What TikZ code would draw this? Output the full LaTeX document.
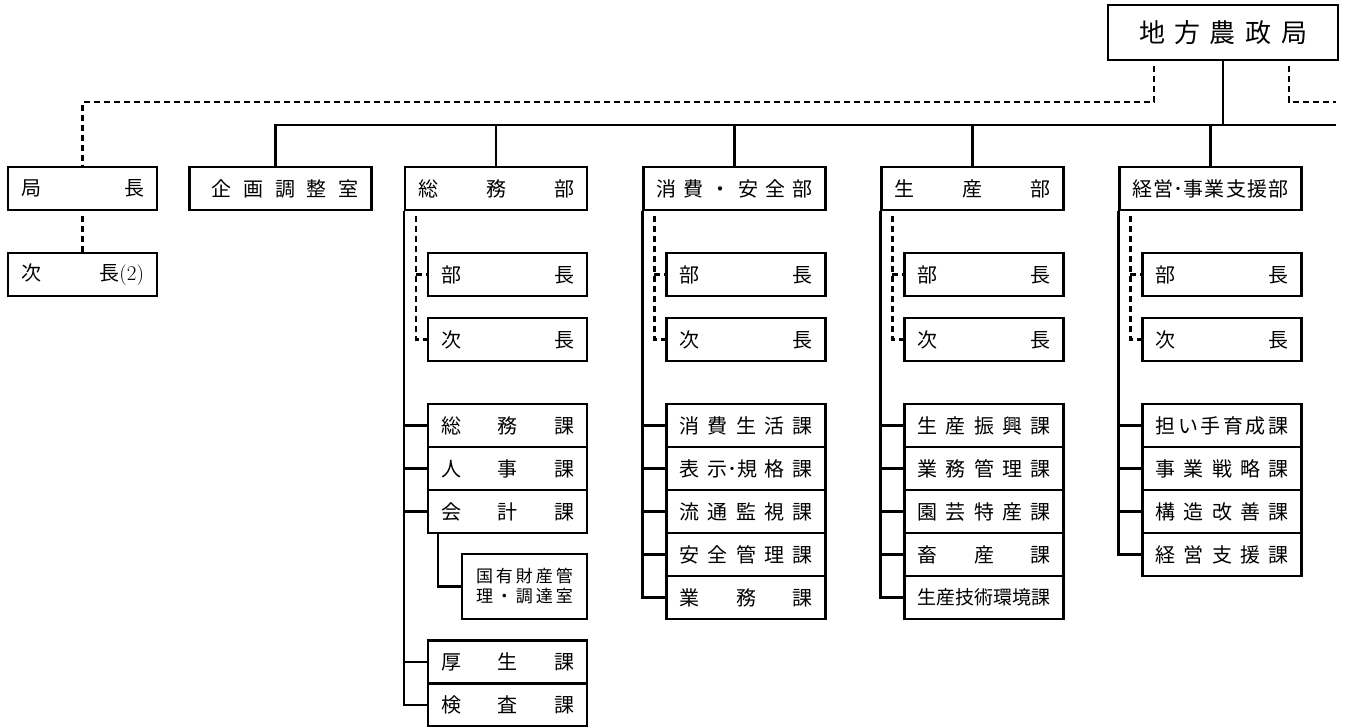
\documentclass[tikz,border=0pt]{standalone}
\usepackage{fontspec}
\newfontfamily\jp{Noto Sans CJK JP}
\usetikzlibrary{positioning}

\newcommand{\dist}[1]{\makebox[\hsize][s]{#1}}

\begin{document}
\begin{tikzpicture}[x=1pt, y=-1pt,
  head/.style={rectangle, draw=black, line width=2.1pt, minimum height=55pt, inner xsep=31pt, inner ysep=0pt, text width=168pt, align=center, font=\jp\fontsize{26}{28}\selectfont},
  dept/.style={rectangle, draw=black, line width=2.1pt, minimum height=43pt, inner xsep=13pt, inner ysep=0pt, text width=156pt, align=center, font=\jp\fontsize{20}{22}\selectfont},
  post/.style={dept, text width=123pt},
  unit/.style={dept, text width=133pt},
  office/.style={dept, text width=97pt, inner xsep=14pt, minimum height=65pt, font=\jp\fontsize{17}{20}\selectfont},
  link/.style={line width=2.1pt},
  dashlink/.style={line width=2.1pt, dash pattern=on 6pt off 4pt}
]
\useasboundingbox (0,0) rectangle (1349,726);

% Head office
\node[head] (nosei) at (1223,32.5) {\dist{地\hfill 方\hfill 農\hfill 政\hfill 局}};

% Director and deputies
\node[post] (kyokucho) at (82.5,188.5) {\dist{局\hfill 長}};
\node[post] (jicho) at (82.5,274.5) {\dist{次\hfill 長{\rmfamily\fontsize{21}{22}\selectfont(2)}}};

% Departments
\node[dept] (kikaku) at (280.5,188.5) {\dist{\hspace*{9pt}企\hfill 画\hfill 調\hfill 整\hfill 室}};
\node[dept] (somu) at (496,188.5) {\dist{総\hfill 務\hfill 部}};
\node[dept] (shohi) at (734.5,188.5) {\dist{消\hfill 費\hfill ・\hfill 安\hfill 全\hfill 部}};
\node[dept] (seisan) at (972.5,188.5) {\dist{生\hfill 産\hfill 部}};
\node[dept] (keiei) at (1210.5,188.5) {\dist{経\hfill 営･事\hfill 業\hfill 支\hfill 援\hfill 部}};

% Somu
\node[unit] (somu-bucho) at (507.5,274.5) {\dist{部\hfill 長}};
\node[unit] (somu-jicho) at (507.5,339.5) {\dist{次\hfill 長}};
\node[unit] (somuka) at (507.5,425.5) {\dist{総\hfill 務\hfill 課}};
\node[unit] (jinji) at (507.5,468.5) {\dist{人\hfill 事\hfill 課}};
\node[unit] (kaikei) at (507.5,511.5) {\dist{会\hfill 計\hfill 課}};
\node[office] (kokuyu) at (524.5,586.5) {\dist{国\hfill 有\hfill 財\hfill 産\hfill 管}\\\dist{理\hfill ・\hfill 調\hfill 達\hfill 室}};
\node[unit] (kosei) at (507.5,662) {\dist{厚\hfill 生\hfill 課}};
\node[unit] (kensa) at (507.5,705) {\dist{検\hfill 査\hfill 課}};

% Shohi anzen
\node[unit] (shohi-bucho) at (746,274.5) {\dist{部\hfill 長}};
\node[unit] (shohi-jicho) at (746,339.5) {\dist{次\hfill 長}};
\node[unit] (seikatsu) at (746,425.5) {\dist{消\hfill 費\hfill 生\hfill 活\hfill 課}};
\node[unit] (hyoji) at (746,468.5) {\dist{表\hfill 示･規\hfill 格\hfill 課}};
\node[unit] (ryutsu) at (746,511.5) {\dist{流\hfill 通\hfill 監\hfill 視\hfill 課}};
\node[unit] (anzen) at (746,554.5) {\dist{安\hfill 全\hfill 管\hfill 理\hfill 課}};
\node[unit] (gyomu) at (746,597.5) {\dist{業\hfill 務\hfill 課}};

% Seisan
\node[unit] (seisan-bucho) at (984,274.5) {\dist{部\hfill 長}};
\node[unit] (seisan-jicho) at (984,339.5) {\dist{次\hfill 長}};
\node[unit] (shinko) at (984,425.5) {\dist{生\hfill 産\hfill 振\hfill 興\hfill 課}};
\node[unit] (kanri) at (984,468.5) {\dist{業\hfill 務\hfill 管\hfill 理\hfill 課}};
\node[unit] (engei) at (984,511.5) {\dist{園\hfill 芸\hfill 特\hfill 産\hfill 課}};
\node[unit] (chikusan) at (984,554.5) {\dist{畜\hfill 産\hfill 課}};
\node[unit, font=\jp\fontsize{19}{21}\selectfont] (gijutsu) at (984,597.5) {\dist{生\hfill 産\hfill 技\hfill 術\hfill 環\hfill 境\hfill 課}};

% Keiei
\node[unit] (keiei-bucho) at (1222,274.5) {\dist{部\hfill 長}};
\node[unit] (keiei-jicho) at (1222,339.5) {\dist{次\hfill 長}};
\node[unit] (ninaite) at (1222,425.5) {\dist{担\hfill い\hfill 手\hfill 育\hfill 成\hfill 課}};
\node[unit] (senryaku) at (1222,468.5) {\dist{事\hfill 業\hfill 戦\hfill 略\hfill 課}};
\node[unit] (kozo) at (1222,511.5) {\dist{構\hfill 造\hfill 改\hfill 善\hfill 課}};
\node[unit] (shien) at (1222,554.5) {\dist{経\hfill 営\hfill 支\hfill 援\hfill 課}};

% Bus lines
\coordinate (bus-r) at (1336,125);
\coordinate (dash-l) at (82.5,102);
\coordinate (dash-r) at (1336,102);
\draw[link] (nosei.south) -- (nosei.south |- bus-r);
\draw[link] ([xshift=-5pt]kikaku.north) |- (bus-r);
\draw[link] (somu.north) -- (somu.north |- bus-r);
\draw[link] (shohi.north) -- (shohi.north |- bus-r);
\draw[link] (seisan.north) -- (seisan.north |- bus-r);
\draw[link] (keiei.north) -- (keiei.north |- bus-r);
\draw[dashlink] ([xshift=-69pt,yshift=-5pt]nosei.south) |- (dash-l) -- (kyokucho.north);
\draw[dashlink] ([xshift=66pt,yshift=-5pt]nosei.south) |- (dash-r);
\draw[dashlink] ([yshift=-5pt]kyokucho.south) -- (jicho.north);

% Somu connections
\draw[link] (somu.south west) |- (kensa.west);
\draw[link] (somu.south west |- somuka.west) -- (somuka.west);
\draw[link] (somu.south west |- jinji.west) -- (jinji.west);
\draw[link] (somu.south west |- kaikei.west) -- (kaikei.west);
\draw[link] (somu.south west |- kosei.west) -- (kosei.west);
\draw[link] ([xshift=11pt]kaikei.south west) |- (kokuyu.west);
\draw[dashlink] ([xshift=12pt,yshift=-5pt]somu.south west) |- (somu-jicho.west);
\draw[dashlink] ([xshift=12pt]somu.south west |- somu-bucho.west) -- (somu-bucho.west);

% Shohi anzen connections
\draw[link] (shohi.south west) |- (gyomu.west);
\draw[link] (shohi.south west |- seikatsu.west) -- (seikatsu.west);
\draw[link] (shohi.south west |- hyoji.west) -- (hyoji.west);
\draw[link] (shohi.south west |- ryutsu.west) -- (ryutsu.west);
\draw[link] (shohi.south west |- anzen.west) -- (anzen.west);
\draw[dashlink] ([xshift=12pt,yshift=-5pt]shohi.south west) |- (shohi-jicho.west);
\draw[dashlink] ([xshift=12pt]shohi.south west |- shohi-bucho.west) -- (shohi-bucho.west);

% Seisan connections
\draw[link] (seisan.south west) |- (gijutsu.west);
\draw[link] (seisan.south west |- shinko.west) -- (shinko.west);
\draw[link] (seisan.south west |- kanri.west) -- (kanri.west);
\draw[link] (seisan.south west |- engei.west) -- (engei.west);
\draw[link] (seisan.south west |- chikusan.west) -- (chikusan.west);
\draw[dashlink] ([xshift=12pt,yshift=-5pt]seisan.south west) |- (seisan-jicho.west);
\draw[dashlink] ([xshift=12pt]seisan.south west |- seisan-bucho.west) -- (seisan-bucho.west);

% Keiei connections
\draw[link] (keiei.south west) |- (shien.west);
\draw[link] (keiei.south west |- ninaite.west) -- (ninaite.west);
\draw[link] (keiei.south west |- senryaku.west) -- (senryaku.west);
\draw[link] (keiei.south west |- kozo.west) -- (kozo.west);
\draw[dashlink] ([xshift=12pt,yshift=-5pt]keiei.south west) |- (keiei-jicho.west);
\draw[dashlink] ([xshift=12pt]keiei.south west |- keiei-bucho.west) -- (keiei-bucho.west);

\end{tikzpicture}
\end{document}
